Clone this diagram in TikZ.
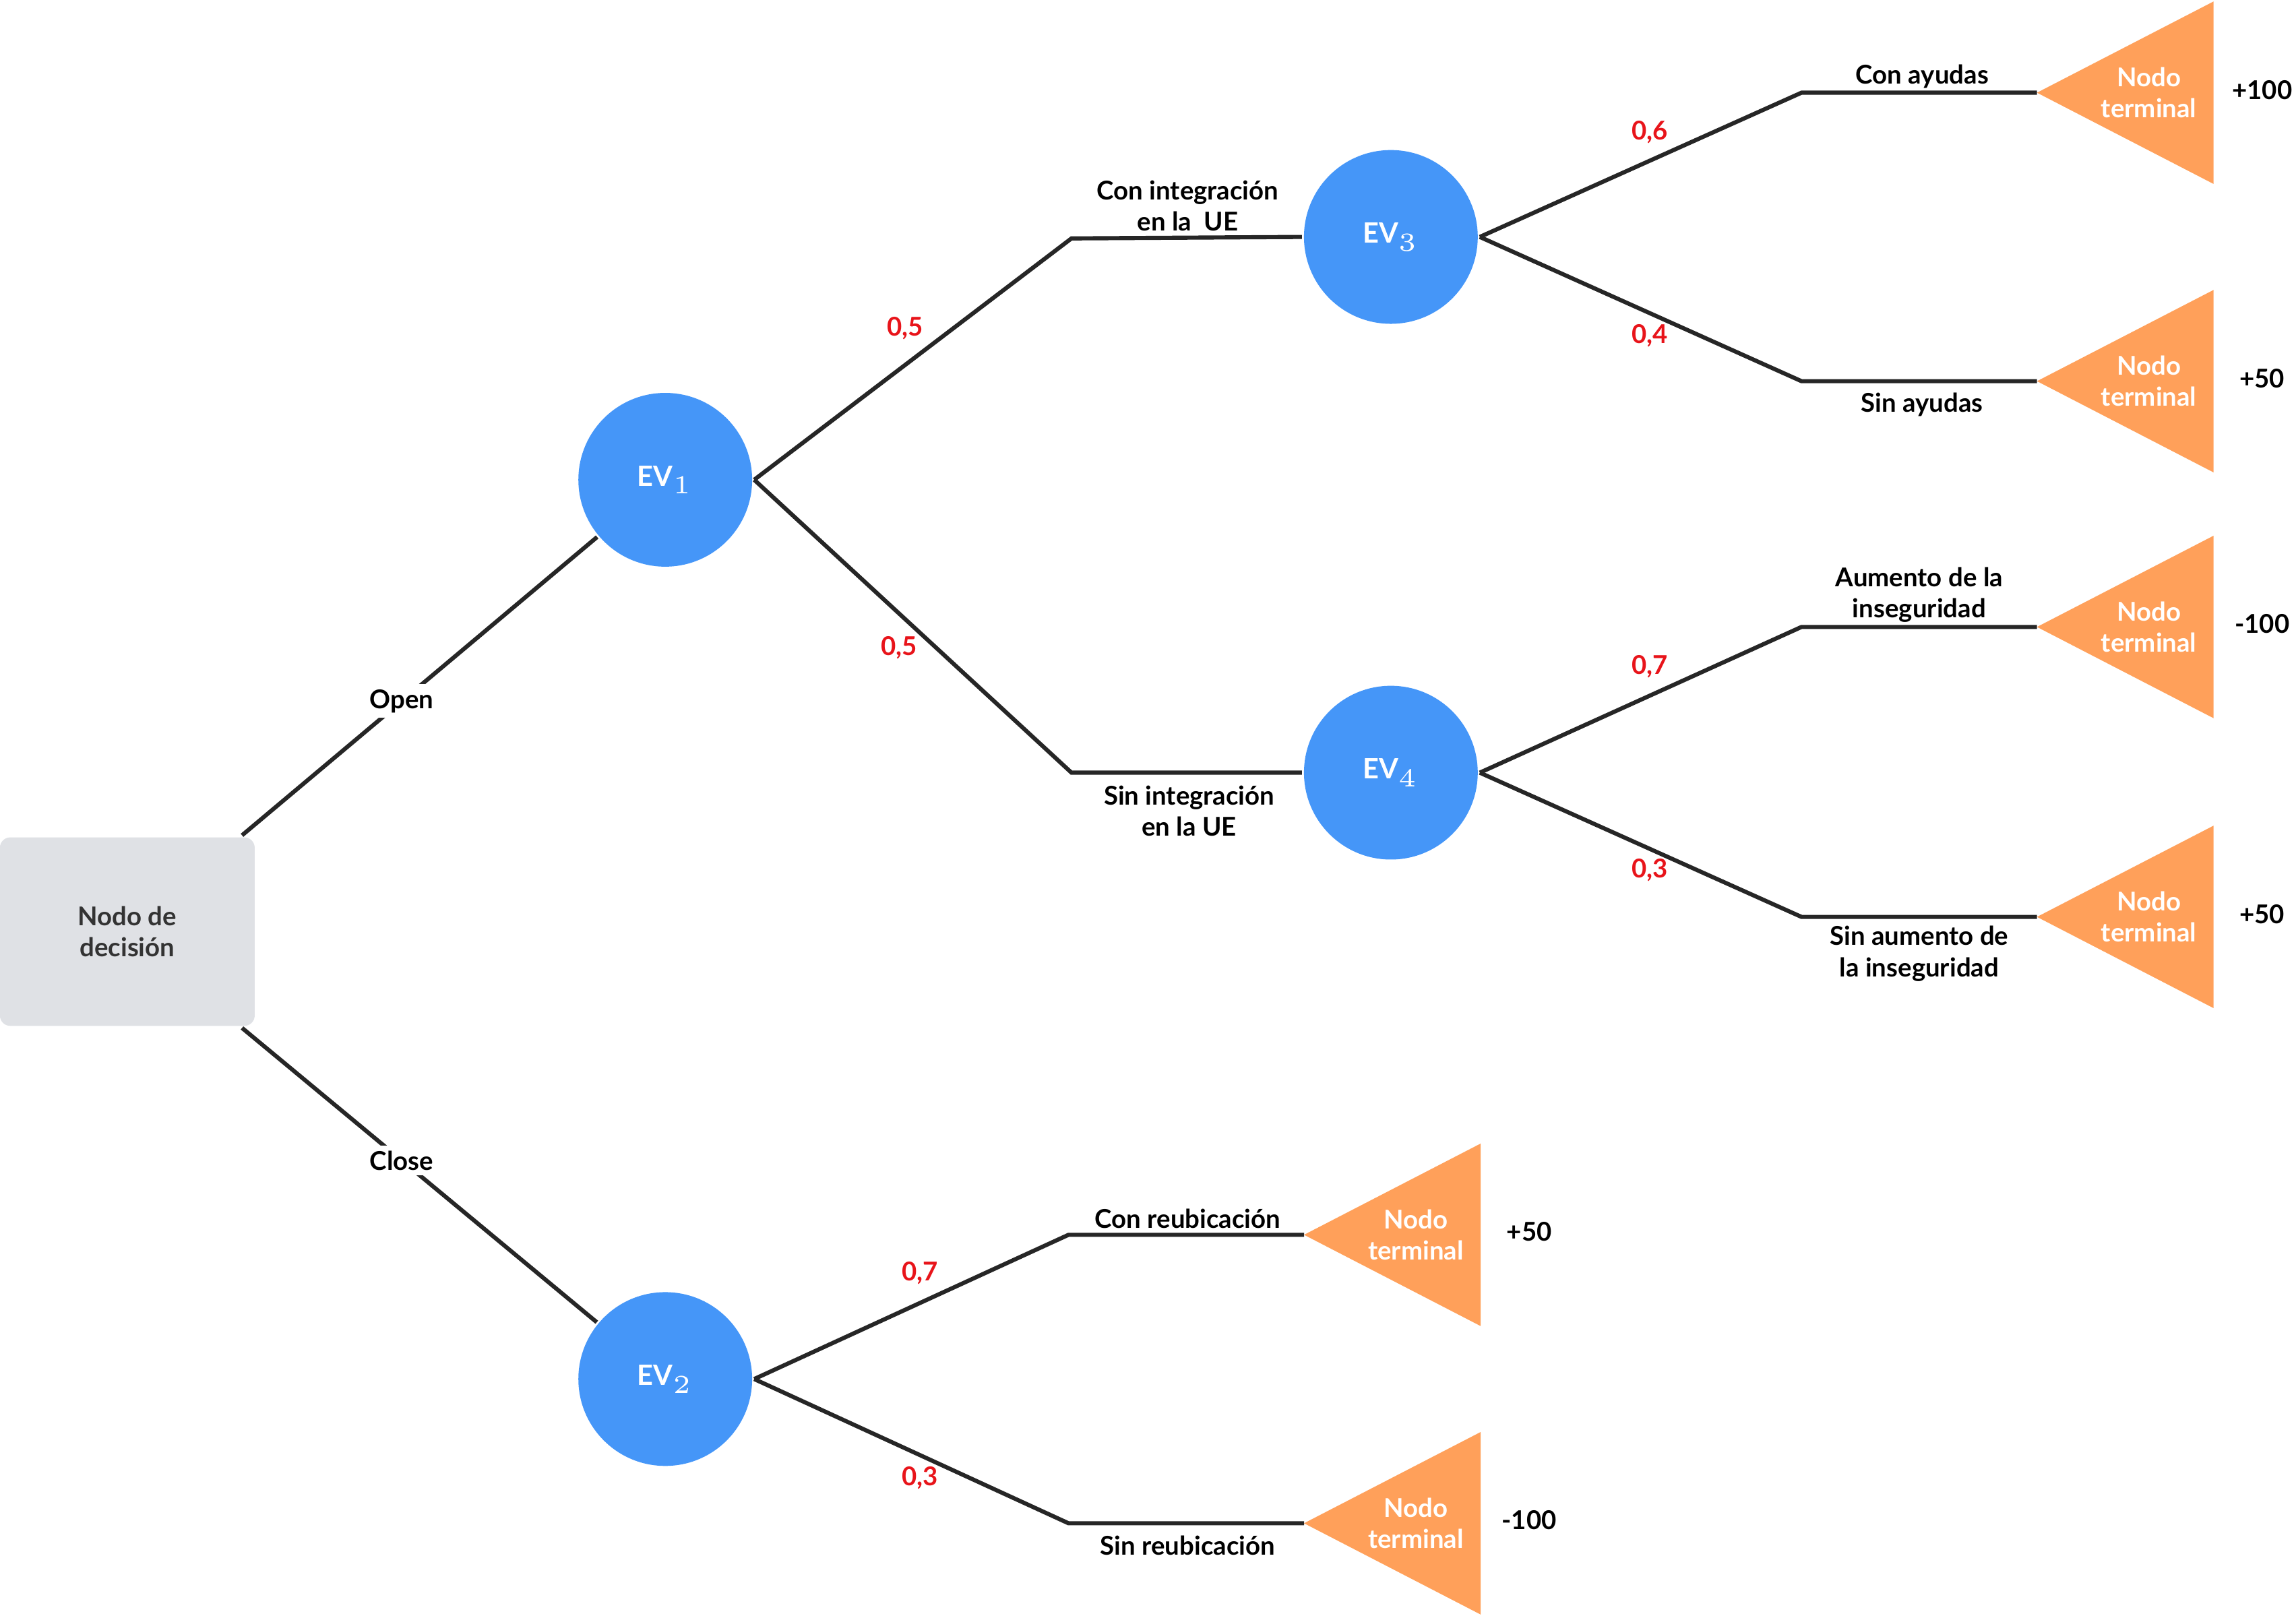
\documentclass[tikz,border=0pt]{standalone}
\usepackage{fontspec}
\setmainfont{Lato}
\usetikzlibrary{calc}
\definecolor{evblue}{HTML}{4596F8}
\definecolor{termorange}{HTML}{FFA05A}
\definecolor{decgray}{HTML}{DFE1E5}
\definecolor{probred}{HTML}{E8141A}

\newcommand{\terminal}[4]{%
  \fill[termorange] (#1,#2) -- ++(120,-62) -- ++(0,124) -- cycle;
  \coordinate (#3) at (#1,#2);
  \node[term] at ($(#3)+(76,0)$) {Nodo\\terminal};
  \node[lbl] at ($(#3)+(#4)$) {};}

\begin{document}
\begin{tikzpicture}[x=0.01cm,y=-0.01cm,
                    semithick,line width=0.8pt,
                    every node/.style={font=\bfseries\fontsize{5}{6}\selectfont,align=center}]
  \tikzset{ev/.style={circle,fill=evblue,minimum size=1.18cm,inner sep=0pt,text=white,font=\bfseries\fontsize{5.4}{6}\selectfont},
           term/.style={text=white},
           lbl/.style={text=black},
           prob/.style={text=probred},
           branch/.style={draw=black!85}}
  \useasboundingbox (0,0) rectangle (1560,1098);

  \node[fill=decgray,rounded corners=2pt,minimum width=1.73cm,minimum height=1.28cm,
        text=black!80] (dec) at (86.5,633) {Nodo de\\decisión};
  \node[ev] (ev1) at (452,326) {EV$_1$};
  \node[ev] (ev2) at (452,937) {EV$_2$};
  \node[ev] (ev3) at (945,161) {EV$_3$};
  \node[ev] (ev4) at (945,525) {EV$_4$};

  % elbows
  \coordinate (e13) at (728,162);
  \coordinate (e14) at (728,525);
  \coordinate (e3a) at (1224,63);
  \coordinate (e3b) at (1224,259);
  \coordinate (e4a) at (1224,426);
  \coordinate (e4b) at (1224,623);
  \coordinate (e2a) at (726,839);
  \coordinate (e2b) at (726,1035);

  % terminal nodes
  \fill[termorange] (1384,63) -- (1504,1) -- (1504,125) -- cycle;
  \fill[termorange] (1384,259) -- (1504,197) -- (1504,321) -- cycle;
  \fill[termorange] (1384,426) -- (1504,364) -- (1504,488) -- cycle;
  \fill[termorange] (1384,623) -- (1504,561) -- (1504,685) -- cycle;
  \fill[termorange] (886,839) -- (1006,777) -- (1006,901) -- cycle;
  \fill[termorange] (886,1035) -- (1006,973) -- (1006,1097) -- cycle;
  \coordinate (t1) at (1384,63);
  \coordinate (t2) at (1384,259);
  \coordinate (t3) at (1384,426);
  \coordinate (t4) at (1384,623);
  \coordinate (t5) at (886,839);
  \coordinate (t6) at (886,1035);
  \foreach \t/\v in {t1/+100,t2/+50,t3/-100,t4/+50,t5/+50,t6/-100}{
    \node[term] at ($(\t)+(76,0)$) {Nodo\\terminal};
    \node[lbl] at ($(\t)+(153,-2)$) {\v};
  }

  % connectors
  \draw[branch] (dec.north east) ++(-10,0) coordinate (d1) -- (ev1)
        node[pos=0.45,fill=white,inner sep=1pt] {Open};
  \draw[branch] (dec.south east) ++(-10,0) coordinate (d2) -- (ev2)
        node[pos=0.45,fill=white,inner sep=1pt] {Close};
  \draw[branch] (ev1.east) -- (e13) -- (ev3.west);
  \draw[branch] (ev1.east) -- (e14) -- (ev4.west);
  \draw[branch] (ev3.east) -- (e3a) -- (t1);
  \draw[branch] (ev3.east) -- (e3b) -- (t2);
  \draw[branch] (ev4.east) -- (e4a) -- (t3);
  \draw[branch] (ev4.east) -- (e4b) -- (t4);
  \draw[branch] (ev2.east) -- (e2a) -- (t5);
  \draw[branch] (ev2.east) -- (e2b) -- (t6);

  % probabilities
  \node[prob] at (615,223) {0,5};
  \node[prob] at (611,440) {0,5};
  \node[prob] at (1121,90) {0,6};
  \node[prob] at (1121,228) {0,4};
  \node[prob] at (1121,453) {0,7};
  \node[prob] at (1121,591) {0,3};
  \node[prob] at (625,865) {0,7};
  \node[prob] at (625,1004) {0,3};

  % branch labels
  \node[lbl] at (807,140) {Con integración\\en la\ \ UE};
  \node[lbl] at (808,551) {Sin integración\\en la UE};
  \node[lbl] at (1306,52) {Con ayudas};
  \node[lbl] at (1306,275) {Sin ayudas};
  \node[lbl] at (1304,404) {Aumento de la\\inseguridad};
  \node[lbl] at (1304,648) {Sin aumento de\\la inseguridad};
  \node[lbl] at (807,828) {Con reubicación};
  \node[lbl] at (807,1050) {Sin reubicación};
\end{tikzpicture}
\end{document}
